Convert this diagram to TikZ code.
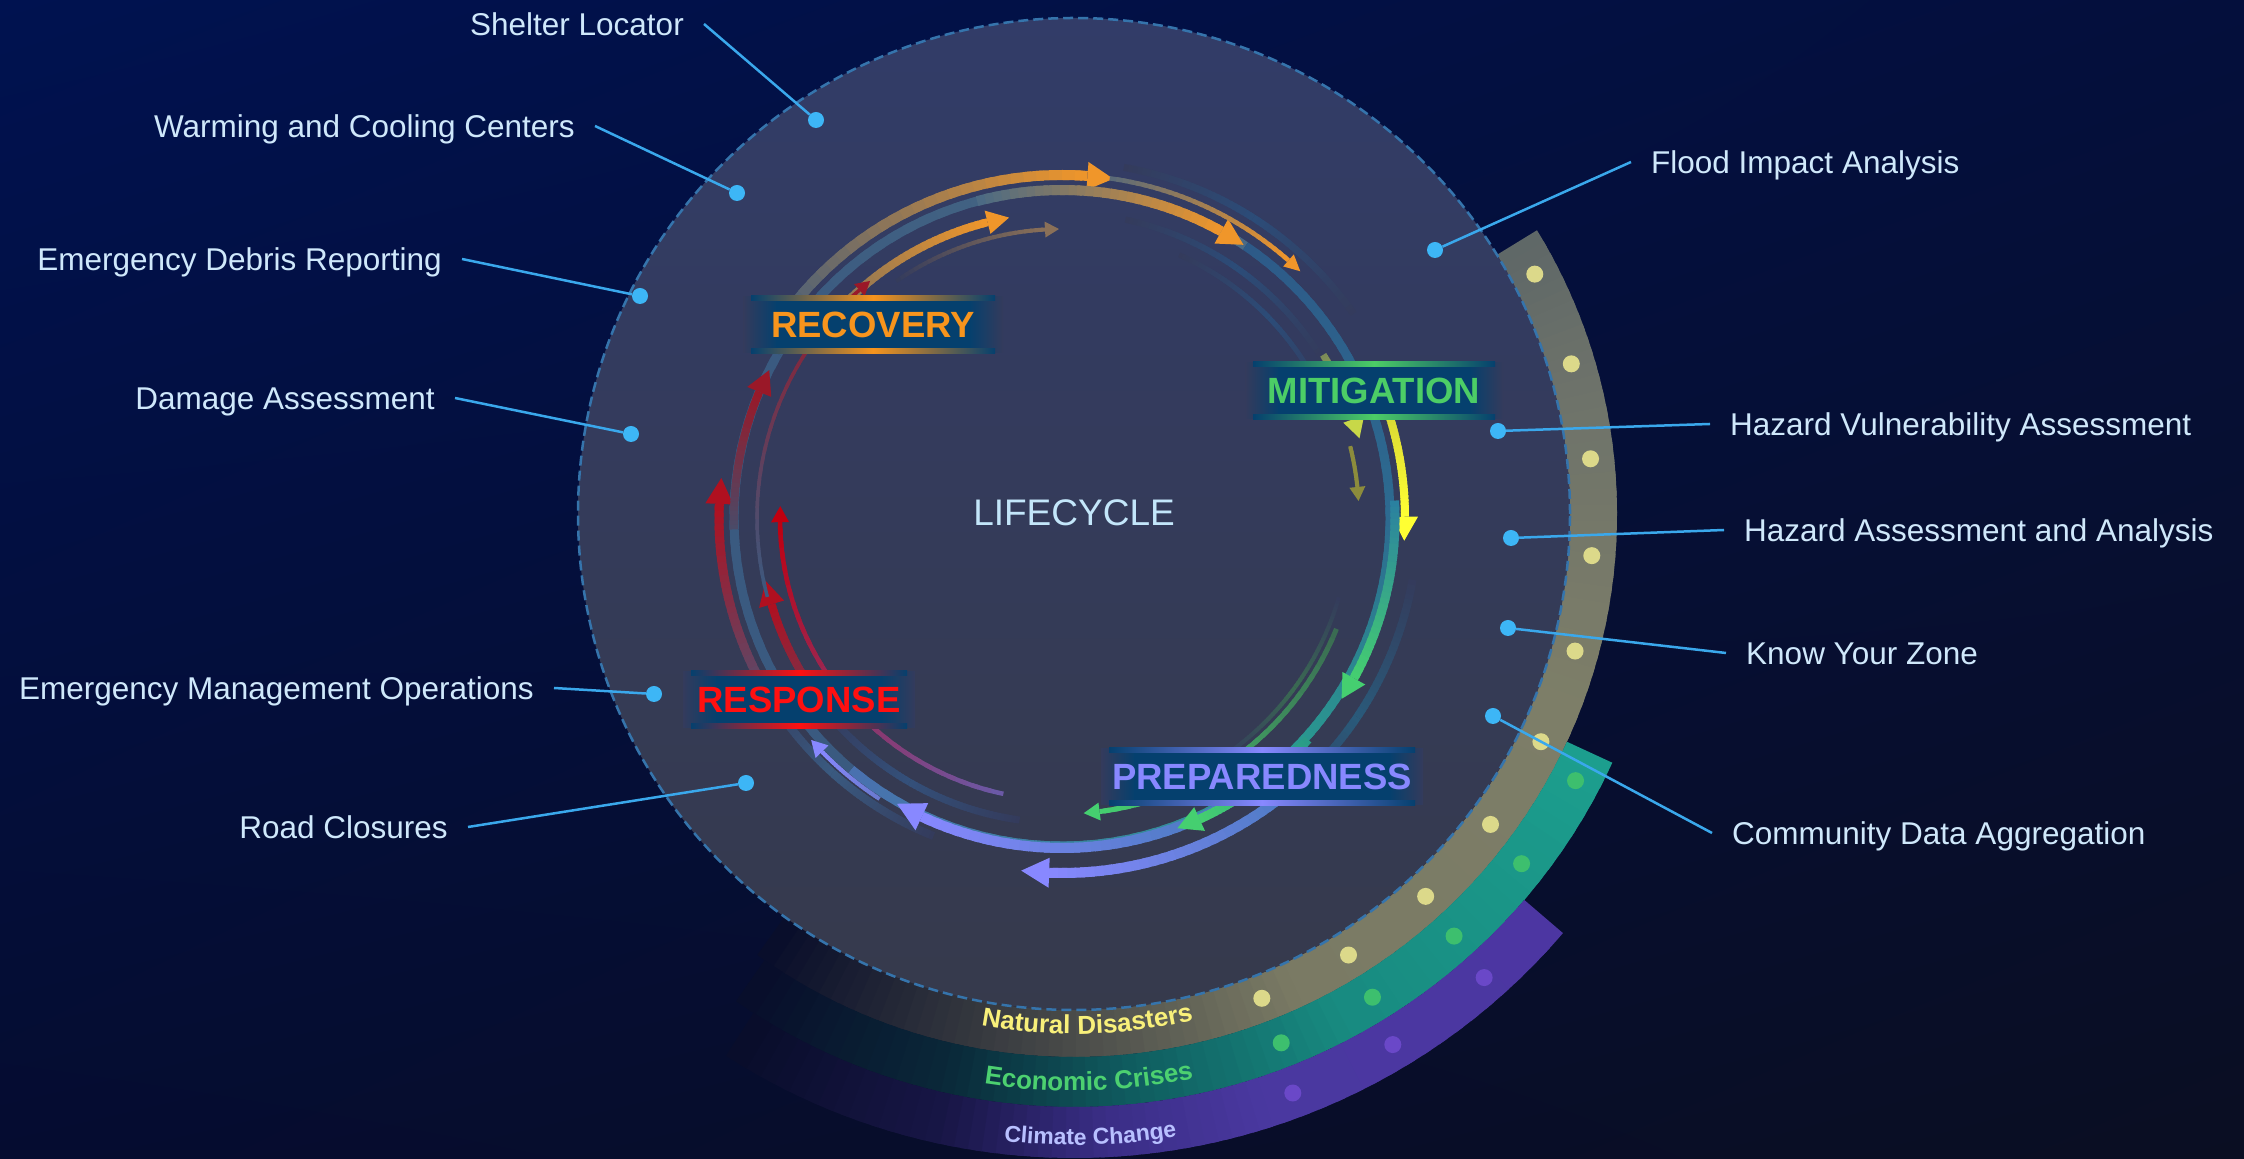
\documentclass[tikz,border=0pt]{standalone}
\usepackage{fontspec}
\setmainfont{Liberation Sans}
\usetikzlibrary{calc,decorations.text,shadings}

\definecolor{bgUL}{HTML}{001250}
\definecolor{bgUR}{HTML}{040F3C}
\definecolor{bgLL}{HTML}{050C30}
\definecolor{bgLR}{HTML}{0A0E22}
\definecolor{bgfade}{HTML}{080D2A}
\definecolor{circT}{HTML}{323C68}
\definecolor{circB}{HTML}{363A4C}
\definecolor{circEdge}{HTML}{3574AC}
\definecolor{ringbase}{HTML}{343B5C}
\definecolor{ndA}{HTML}{5E6767}
\definecolor{ndB}{HTML}{6D726A}
\definecolor{ndC}{HTML}{7D7E68}
\definecolor{ndD}{HTML}{7A7A64}
\definecolor{ndE}{HTML}{36393F}
\definecolor{ecA}{HTML}{1C9E8E}
\definecolor{ecB}{HTML}{188A80}
\definecolor{ecC}{HTML}{0F5A5E}
\definecolor{ecD}{HTML}{0A2838}
\definecolor{ccA}{HTML}{4C36A2}
\definecolor{ccB}{HTML}{4A38A0}
\definecolor{ccC}{HTML}{3A2E86}
\definecolor{ccD}{HTML}{181646}
\definecolor{nddot}{HTML}{DCD98A}
\definecolor{ecdot}{HTML}{3DBF6E}
\definecolor{ccdot}{HTML}{6A48C8}
\definecolor{ndtext}{HTML}{F8F07A}
\definecolor{ectext}{HTML}{4CD070}
\definecolor{cctext}{HTML}{B8C0FF}
\definecolor{trk1}{HTML}{3A5A80}
\definecolor{trk2}{HTML}{4A6A85}
\definecolor{trkB}{HTML}{2D5A88}
\definecolor{trkB2}{HTML}{2D6A90}
\definecolor{trkT}{HTML}{2A9A90}
\definecolor{trkV}{HTML}{4A70B0}
\definecolor{dkb}{HTML}{2C4C78}
\definecolor{dkb2}{HTML}{34507A}
\definecolor{dkt}{HTML}{2A5A7A}
\definecolor{dkg}{HTML}{3A6A52}
\definecolor{orng}{HTML}{F0962A}
\definecolor{gry}{HTML}{5A6A78}
\definecolor{tanc}{HTML}{7A7060}
\definecolor{brn}{HTML}{8A7058}
\definecolor{yel}{HTML}{FFFF33}
\definecolor{yel2}{HTML}{D8D834}
\definecolor{ygr}{HTML}{C8D848}
\definecolor{ygr2}{HTML}{7A8A58}
\definecolor{olv}{HTML}{8C8C3C}
\definecolor{tealb}{HTML}{2A80A0}
\definecolor{tealc}{HTML}{2A9A88}
\definecolor{grn}{HTML}{45CF70}
\definecolor{blu}{HTML}{4A7AC0}
\definecolor{vio}{HTML}{8888FF}
\definecolor{vio2}{HTML}{6A7AD0}
\definecolor{vio3}{HTML}{6A5AA8}
\definecolor{plg}{HTML}{5A4A6A}
\definecolor{plr}{HTML}{6A3A55}
\definecolor{gr2}{HTML}{4A4A68}
\definecolor{red1}{HTML}{B01020}
\definecolor{red2}{HTML}{C00010}
\definecolor{red3}{HTML}{9A1828}
\definecolor{boxc}{HTML}{05406E}
\definecolor{recC}{HTML}{F7941D}
\definecolor{mitC}{HTML}{4CCD66}
\definecolor{preC}{HTML}{8888FF}
\definecolor{resC}{HTML}{FF1010}
\definecolor{lifeC}{HTML}{C3E6FA}
\definecolor{lblC}{HTML}{CFE8FB}
\definecolor{connC}{HTML}{3AA8EC}
\definecolor{dotC}{HTML}{3DB6F6}

% gradient arc: r, a1, a2, width, c1, c2
\newcommand{\garc}[6]{%
  \foreach \k in {1,...,30}{%
    \pgfmathsetmacro\gA{(#2)+((#3)-(#2))*(\k-1)/30}%
    \pgfmathsetmacro\gB{(#2)+((#3)-(#2))*min(\k+0.6,30)/30}%
    \pgfmathtruncatemacro\gP{100*(\k-0.5)/30}%
    \draw[line width=#4pt,color=#6!\gP!#5] (\gA:#1) arc[start angle=\gA,end angle=\gB,radius=#1];
  }%
}
% gradient arrow: r, a1, atip, width, c1, c2, headlength, headhalfwidth
\newcommand{\garrow}[8]{%
  \pgfmathsetmacro\gE{(#3)+(#7)/(#1)*57.2958}%
  \garc{#1}{#2}{\gE}{#4}{#5}{#6}%
  \fill[#6] (#3:#1) -- (\gE:{#1+#8}) -- (\gE:{#1-#8}) -- cycle;
}
% faded-both-ends arc: r, a1, a2, width, color
\newcommand{\farc}[5]{%
  \pgfmathsetmacro\gM{((#2)+(#3))/2}%
  \garc{#1}{#2}{\gM}{#4}{ringbase}{#5}%
  \garc{#1}{\gM}{#3}{#4}{#5}{ringbase}%
}
% band gradient: rin, rout, a1, a2, c1, c2, N
\newcommand{\bandgrad}[7]{%
  \foreach \k in {1,...,#7}{%
    \pgfmathsetmacro\gA{(#3)+((#4)-(#3))*(\k-1)/#7}%
    \pgfmathsetmacro\gB{(#3)+((#4)-(#3))*(\k+0.5)/#7}%
    \pgfmathtruncatemacro\gP{100*(\k-0.5)/#7}%
    \fill[#6!\gP!#5] (\gA:#1) arc[start angle=\gA,end angle=\gB,radius=#1] -- (\gB:#2) arc[start angle=\gB,end angle=\gA,radius=#2] -- cycle;
  }%
}
% phase label: name, x, y, width, color, text
\newcommand{\phasebox}[6]{%
  \shade[left color=ringbase,right color=boxc] ({#2-#4/2},{#3-28}) rectangle ({#2-#4/2+34},{#3+28});
  \fill[boxc] ({#2-#4/2+33},{#3-28}) rectangle ({#2+#4/2-33},{#3+28});
  \shade[left color=boxc,right color=ringbase] ({#2+#4/2-34},{#3-28}) rectangle ({#2+#4/2},{#3+28});
  \shade[left color=boxc,right color=boxc,middle color=#5] ({#2-#4/2+8},{#3+24}) rectangle ({#2+#4/2-8},{#3+29});
  \shade[left color=boxc,right color=boxc,middle color=#5] ({#2-#4/2+8},{#3-29}) rectangle ({#2+#4/2-8},{#3-24});
  \node[phasetxt,text=#5] (#1) at (#2,#3) {#6};
}

\tikzset{
  lblL/.style={anchor=east,text=lblC,font=\fontsize{31.5}{38}\selectfont,inner xsep=20pt,inner ysep=0pt,text height=22.5pt,text depth=0pt},
  lblR/.style={anchor=west,text=lblC,font=\fontsize{31.5}{38}\selectfont,inner xsep=20pt,inner ysep=0pt,text height=22.5pt,text depth=0pt},
  ldot/.style={circle,fill=dotC,minimum size=16pt,inner sep=0pt},
  conn/.style={draw=connC,line width=2.5pt},
  phasetxt/.style={font=\fontsize{36.5}{44}\selectfont\bfseries,inner sep=0pt,text height=26pt,text depth=0pt},
}

\begin{document}
\begin{tikzpicture}[x=1pt,y=1pt]
\useasboundingbox (0,0) rectangle (2244,1159);
\shade[upper left=bgUL,upper right=bgUR,lower left=bgLL,lower right=bgLR] (0,0) rectangle (2244,1159);

% ---------- outer bands ----------
\begin{scope}[shift={(1074,645)}]
  \bandgrad{496}{543}{31.5}{15}{ndA}{ndB}{12}
  \bandgrad{496}{543}{15}{-20}{ndB}{ndC}{20}
  \bandgrad{496}{543}{-20}{-65}{ndC}{ndD}{24}
  \bandgrad{496}{543}{-65}{-100}{ndD}{ndE}{24}
  \bandgrad{496}{543}{-100}{-125}{ndE}{bgfade}{18}
  \bandgrad{543}{593}{-24.8}{-62}{ecA}{ecB}{20}
  \bandgrad{543}{593}{-62}{-85}{ecB}{ecC}{16}
  \bandgrad{543}{593}{-85}{-103}{ecC}{ecD}{14}
  \bandgrad{543}{593}{-103}{-124}{ecD}{bgfade}{14}
  \bandgrad{593}{644}{-40.6}{-72}{ccA}{ccB}{18}
  \bandgrad{593}{644}{-72}{-87}{ccB}{ccC}{12}
  \bandgrad{593}{644}{-87}{-102}{ccC}{ccD}{12}
  \bandgrad{593}{644}{-102}{-122}{ccD}{bgfade}{14}
  \foreach \a in {27.5,16.8,6.1,-4.6,-15.3,-26,-36.7,-47.4,-58.1,-68.8} \fill[nddot] (\a:519.5) circle (8.5);
  \foreach \a in {-28,-38,-48,-58.3,-68.6} \fill[ecdot] (\a:568) circle (8.5);
  \foreach \a in {-48.5,-59,-69.3} \fill[ccdot] (\a:619) circle (8.5);
  \path[decorate,decoration={text along path,text align=center,text color=ndtext,
     text={|\fontsize{26}{30}\selectfont\bfseries|Natural Disasters}}]
     (-113:520) arc[start angle=-113,end angle=-64,radius=520];
  \path[decorate,decoration={text along path,text align=center,text color=ectext,
     text={|\fontsize{26}{30}\selectfont\bfseries|Economic Crises}}]
     (-111:577) arc[start angle=-111,end angle=-66,radius=577];
  \path[decorate,decoration={text along path,text align=center,text color=cctext,
     text={|\fontsize{23}{27}\selectfont\bfseries|Climate Change}}]
     (-107:631) arc[start angle=-107,end angle=-70,radius=631];
\end{scope}

% ---------- main circle ----------
\shade[top color=circT,bottom color=circB] (1074,645) circle (496);
\draw[circEdge,line width=2.5pt,dash pattern=on 10pt off 5pt] (1074,645) circle (496);

% ---------- lifecycle ring ----------
\begin{scope}[shift={(1062,641)}]
  % track ring
  \garc{328}{150}{56}{9}{trk1}{trk2}
  \garc{328}{56}{0}{9}{trkB}{trkB2}
  \garc{328}{0}{-45}{9}{trkB2}{trkT}
  \garc{328}{-45}{-130}{9}{trkT}{trkV}
  \garc{328}{-130}{-210}{9}{trk1}{trk1}
  % faint rings
  \farc{356}{80}{35}{7}{dkb}
  \farc{305}{78}{32}{6}{dkb}
  \farc{288}{66}{22}{5}{dkb}
  \farc{356}{-10}{-58}{8}{dkt}
  \farc{288}{-16}{-56}{4}{dkg}
  \farc{343}{-112}{-152}{8}{trk1}
  \farc{305}{-98}{-142}{7}{dkb2}
  \farc{305}{150}{118}{6}{dkb}
  % recovery (orange)
  \garrow{343}{150}{81.4}{10}{trk1}{orng}{26}{14}
  \garrow{328}{105}{56.4}{10}{trk2}{orng}{26}{14}
  \garrow{343}{82}{46}{4.5}{gry}{orng}{16}{8}
  \garrow{305}{140}{100}{8}{tanc}{orng}{22}{12}
  \garrow{289}{125}{90.6}{4}{ringbase}{brn}{14}{8}
  % mitigation (yellow)
  \garrow{343}{18}{-3.8}{8}{yel2}{yel}{24}{13}
  \garrow{308}{32}{15}{7}{ygr2}{ygr}{20}{11}
  \garrow{297}{14}{3.3}{4}{olv}{olv}{14}{8}
  \garrow{333}{3}{-32.9}{9}{tealb}{grn}{24}{13}
  \garrow{296}{-22}{-85.8}{5}{dkg}{grn}{16}{9}
  % preparedness (violet)
  \garrow{330}{-62}{-120}{10}{blu}{vio}{28}{15}
  \garrow{355}{-48}{-96.6}{10}{blu}{vio}{28}{15}
  \garrow{335}{-123}{-138.5}{4}{vio2}{vio}{16}{9}
  \garrow{331}{-42}{-69.6}{9}{tealc}{grn}{24}{13}
  % response (red)
  \garrow{343}{-150}{-186.7}{9}{plg}{red1}{26}{14}
  \garrow{303}{-140}{-168}{8}{plr}{red1}{24}{13}
  \garrow{282}{-102}{-182.4}{4.5}{vio3}{red2}{16}{9}
  \garrow{328}{-178}{-206.8}{8}{gr2}{red3}{24}{13}
  \garrow{305}{-165}{-231}{3.5}{trk1}{red3}{14}{8}
\end{scope}

% ---------- phase labels ----------
\phasebox{recovery}{873}{834}{260}{recC}{RECOVERY}
\phasebox{mitigation}{1374}{768}{258}{mitC}{MITIGATION}
\phasebox{preparedness}{1262}{382}{322}{preC}{PREPAREDNESS}
\phasebox{response}{799}{459}{232}{resC}{RESPONSE}

\node[text=lifeC,font=\fontsize{37}{44}\selectfont,inner sep=0pt,text height=26.5pt,text depth=0pt] (life) at (1074,647) {LIFECYCLE};

% ---------- left labels ----------
\node[lblL] (sl) at (704,1135) {Shelter Locator};
\node[ldot] (sld) at (816,1039) {};
\draw[conn] (sl.east) -- (sld);
\node[lblL] (wcc) at (595,1033) {Warming and Cooling Centers};
\node[ldot] (wccd) at (737,966) {};
\draw[conn] (wcc.east) -- (wccd);
\node[lblL] (edr) at (462,900) {Emergency Debris Reporting};
\node[ldot] (edrd) at (640,863) {};
\draw[conn] (edr.east) -- (edrd);
\node[lblL] (da) at (455,761) {Damage Assessment};
\node[ldot] (dad) at (631,725) {};
\draw[conn] (da.east) -- (dad);
\node[lblL] (emo) at (554,471) {Emergency Management Operations};
\node[ldot] (emod) at (654,465) {};
\draw[conn] (emo.east) -- (emod);
\node[lblL] (rc) at (468,332) {Road Closures};
\node[ldot] (rcd) at (746,376) {};
\draw[conn] (rc.east) -- (rcd);

% ---------- right labels ----------
\node[lblR] (fia) at (1631,997) {Flood Impact Analysis};
\node[ldot] (fiad) at (1435,909) {};
\draw[conn] (fia.west) -- (fiad);
\node[lblR] (hva) at (1710,735) {Hazard Vulnerability Assessment};
\node[ldot] (hvad) at (1498,728) {};
\draw[conn] (hva.west) -- (hvad);
\node[lblR] (haa) at (1724,629) {Hazard Assessment and Analysis};
\node[ldot] (haad) at (1511,621) {};
\draw[conn] (haa.west) -- (haad);
\node[lblR] (kyz) at (1726,506) {Know Your Zone};
\node[ldot] (kyzd) at (1508,531) {};
\draw[conn] (kyz.west) -- (kyzd);
\node[lblR] (cda) at (1712,326) {Community Data Aggregation};
\node[ldot] (cdad) at (1493,443) {};
\draw[conn] (cda.west) -- (cdad);
\end{tikzpicture}
\end{document}
